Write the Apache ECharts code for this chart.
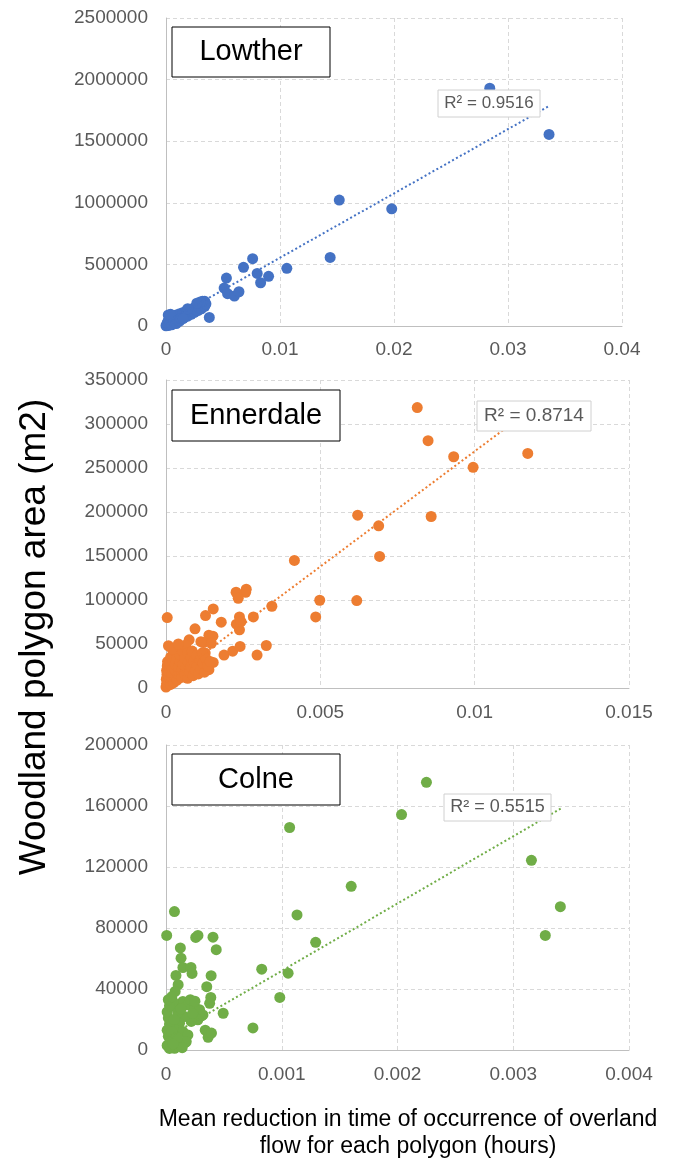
<!DOCTYPE html>
<html><head><meta charset="utf-8">
<script src="https://cdn.jsdelivr.net/npm/echarts/dist/echarts.min.js"></script>
<style>html,body{margin:0;padding:0;background:#fff}#c{width:674px;height:1160px}</style>
</head><body><div id="c"></div>
<script>
// ---- data ----
var panelNames = ['Lowther', 'Ennerdale', 'Colne'];
var r2Labels = ['R² = 0.9516', 'R² = 0.8714', 'R² = 0.5515'];
var yAxisTitle = 'Woodland polygon area (m2)';
var xAxisTitle1 = 'Mean reduction in time of occurrence of overland';
var xAxisTitle2 = 'flow for each polygon (hours)';

var lowtherX = [0, 0.04, 0.01];          // min, max, interval
var lowtherY = [0, 2500000, 500000];
var ennerdaleX = [0, 0.015, 0.005];
var ennerdaleY = [0, 350000, 50000];
var colneX = [0, 0.004, 0.001];
var colneY = [0, 200000, 40000];

var lowther = [
  [0.0284,1930000],[0.0336,1555000],[0.0152,1022000],[0.0198,951000],[0.0144,557000],
  [0.0106,468000],[0.0076,546000],[0.0068,476000],[0.0080,427000],[0.0090,403000],
  [0.0083,351000],[0.0053,389000],[0.0051,308000],[0.0054,262000],[0.0060,243000],
  [0.0064,278000],[0.0038,70000],
  [0.0000,2000],[0.0001,8000],[0.0002,4000],[0.0001,25000],[0.0002,45000],[0.0003,15000],
  [0.0003,70000],[0.0002,90000],[0.0004,30000],[0.0005,55000],[0.0005,10000],[0.0006,80000],
  [0.0007,35000],[0.0008,60000],[0.0009,20000],[0.0009,90000],[0.0010,45000],[0.0011,75000],
  [0.0012,100000],[0.0012,40000],[0.0013,60000],[0.0014,85000],[0.0015,110000],[0.0016,70000],
  [0.0017,95000],[0.0018,120000],[0.0019,80000],[0.0020,105000],[0.0021,130000],[0.0022,95000],
  [0.0023,120000],[0.0024,145000],[0.0025,110000],[0.0026,135000],[0.0027,160000],[0.0028,125000],
  [0.0029,150000],[0.0030,175000],[0.0031,140000],[0.0032,165000],[0.0033,190000],[0.0034,160000],
  [0.0034,200000],[0.0035,180000],[0.0032,200000],[0.0030,195000],[0.0027,185000],[0.0004,95000],
  [0.0015,60000],[0.0019,140000]
];
var ennerdale = [
  [0.00814,318700],[0.00849,281000],[0.00932,262800],[0.00995,250800],[0.01172,266600],
  [0.00621,196400],[0.00859,194900],[0.00689,184300],[0.00692,149500],[0.00416,145000],
  [0.00498,99700],[0.00618,99300],[0.00485,80800],[0.00343,92900],[0.00283,80800],
  [0.0026,112200],[0.00258,108800],[0.00227,108800],[0.00234,102000],[0.00238,80800],
  [0.00228,72500],[0.00243,75500],[0.00238,66100],[0.00179,74800],[0.00153,89900],
  [0.00128,82300],[0.00094,67200],[0.00075,54800],[0.00139,60000],[0.00152,58900],
  [0.00121,51700],[0.00127,39700],[0.00153,29100],[0.00188,37400],[0.00216,41900],
  [0.0024,47200],[0.00295,37400],[0.00325,48300],[0.00004,80000],[0.00008,48000],
  [0.00139,20800],[0.00147,50800],[0.00113,52600],
  [0.00000,1000],[0.00002,5000],[0.00001,10000],[0.00003,15000],[0.00002,20000],[0.00004,25000],
  [0.00005,30000],[0.00006,3000],[0.00008,8000],[0.0001,13000],[0.0001,18000],[0.00012,23000],
  [0.00012,28000],[0.00015,35000],[0.00015,4000],[0.00018,10000],[0.0002,16000],[0.0002,22000],
  [0.00022,30000],[0.00025,38000],[0.00025,6000],[0.0003,12000],[0.0003,20000],[0.0003,27000],
  [0.00032,42000],[0.00035,34000],[0.00036,9000],[0.0004,16000],[0.0004,24000],[0.00042,45000],
  [0.00045,30000],[0.00045,38000],[0.0005,12000],[0.0005,20000],[0.00052,47000],[0.00055,27000],
  [0.00055,41000],[0.0006,16000],[0.0006,34000],[0.00064,48800],[0.00065,23000],[0.0007,40000],
  [0.0007,11000],[0.00072,29000],[0.00076,18000],[0.0008,35000],[0.0008,24000],[0.00085,42000],
  [0.00088,14000],[0.0009,30000],[0.00095,20000],[0.001,37000],[0.001,26000],[0.00105,16000],
  [0.0011,32000],[0.00112,22000],[0.0012,28000],[0.00118,40000],[0.00125,18000],[0.0013,33000],
  [0.00135,25000],[0.00143,30000],[0.0002,44000],[0.0004,50000]
];
var colne = [
  [0.00225,175500],[0.002035,154400],[0.001068,145900],[0.003157,124400],[0.0016,107300],
  [0.003407,94000],[0.001132,88600],[0.003277,75100],[0.001293,70600],[0.000827,53000],
  [0.001055,50400],[0.000983,34500],[0.000751,14500],[0.000494,24100],[0.000073,90800],
  [0.000006,75100],[0.000257,73800],[0.000276,75100],[0.000406,74000],[0.000434,65800],
  [0.000124,66900],[0.00013,60200],[0.000146,54100],[0.000216,54100],[0.000225,50200],
  [0.000086,48900],[0.00039,48700],[0.000105,42800],[0.000352,41500],[0.000079,38400],
  [0.000387,34500],[0.000377,30600],[0.000339,13000],[0.000364,8300],[0.000393,11100],
  [0.000307,22400],[0.000168,5000],
  [0.000146,31800],[0.000189,29600],[0.000247,28500],[0.00029,26400],[0.000319,23000],
  [0.000275,19800],[0.000218,18700],[0.00016,21900],[0.000102,24200],[0.000074,28500],
  [0.000059,31800],[0.000117,17600],[0.000088,13200],[0.000146,12100],[0.000189,9900],
  [0.000175,5500],[0.000117,3300],[0.000074,1100],[0.00003,1000],[0.000045,6600],
  [0.00003,17000],[0.00001,3000],[0.00002,9000],[0.00001,13000],[0.00002,21000],
  [0.00001,25000],[0.00003,29000],[0.00002,33000],[0.00005,35000],[0.00007,20000],
  [0.0001,8000],[0.00005,12000],[0.00013,27000],[0.00021,33000],[0.00025,32000],
  [0.00023,24000],[0.00014,1500],[0.00006,4000]
];
// trendline end points
var lowtherTrend = [[0, 32000], [0.0336, 1786000]];
var ennerdaleTrend = [[0, 7000], [0.0117, 313500]];
var colneTrend = [[0, 7800], [0.00342, 158700]];

var colors = ['#4472C4', '#ED7D31', '#70AD47'];
var FONT = '"Liberation Sans", Arial, sans-serif';

function plain(v) { return String(+v.toPrecision(6)); }

function xAx(i, r, m) {
  return {
    type: 'value', gridIndex: i, min: r[0], max: r[1], interval: r[2],
    axisLine: { show: true, onZero: false, lineStyle: { color: '#bfbfbf', width: 1 } },
    axisTick: { show: false },
    axisLabel: { fontSize: 19, color: '#595959', fontFamily: FONT, margin: m, formatter: plain, showMaxLabel: true },
    splitLine: { show: true, lineStyle: { type: [4, 3], color: '#d9d9d9', width: 1 } }
  };
}
function yAx(i, r) {
  return {
    type: 'value', gridIndex: i, min: r[0], max: r[1], interval: r[2],
    axisLine: { show: true, onZero: false, lineStyle: { color: '#bfbfbf', width: 1 } },
    axisTick: { show: false },
    axisLabel: { fontSize: 19, color: '#595959', fontFamily: FONT, margin: 18, formatter: plain },
    splitLine: { show: true, lineStyle: { type: [4, 3], color: '#d9d9d9', width: 1 } }
  };
}
function scat(i, d) {
  return { type: 'scatter', xAxisIndex: i, yAxisIndex: i, data: d, symbolSize: 11,
    itemStyle: { color: colors[i], opacity: 1 }, z: 3, silent: true };
}
function trend(i, d) {
  return { type: 'line', xAxisIndex: i, yAxisIndex: i, data: d, symbol: 'none',
    lineStyle: { color: colors[i], width: 2, type: [2, 2.5] }, z: 4, silent: true, animation: false };
}
function box(x, y, w, h, text, size, stroke, fill) {
  return [
    { type: 'rect', z: 100, shape: { x: x, y: y, width: w, height: h },
      style: { fill: '#fff', stroke: stroke, lineWidth: 1 } },
    { type: 'text', z: 101, x: x + w / 2, y: y + h / 2,
      style: { text: text, font: size + 'px ' + FONT, fill: fill,
        align: 'center', verticalAlign: 'middle', textAlign: 'center', textVerticalAlign: 'middle' } }
  ];
}

var chart = echarts.init(document.getElementById('c'));
var graphics = [].concat(
  box(172, 27, 158, 50, panelNames[0], 29, '#000', '#000'),
  box(172, 390, 168, 51, panelNames[1], 29, '#000', '#000'),
  box(172, 754, 168, 51, panelNames[2], 29, '#000', '#000'),
  box(438, 90, 102, 27, r2Labels[0], 17, '#d0d0d0', '#595959'),
  box(477, 401, 114, 30, r2Labels[1], 19, '#d0d0d0', '#595959'),
  box(444, 794, 107, 27, r2Labels[2], 18, '#d0d0d0', '#595959'),
  [
    { type: 'text', z: 101, x: 35, y: 637, rotation: Math.PI / 2,
      style: { text: yAxisTitle, font: '37px ' + FONT, fill: '#000',
        align: 'center', verticalAlign: 'middle', textAlign: 'center', textVerticalAlign: 'middle' } },
    { type: 'text', z: 101, x: 408, y: 1120,
      style: { text: xAxisTitle1, font: '23px ' + FONT, fill: '#000',
        align: 'center', verticalAlign: 'middle', textAlign: 'center', textVerticalAlign: 'middle' } },
    { type: 'text', z: 101, x: 408, y: 1147,
      style: { text: xAxisTitle2, font: '23px ' + FONT, fill: '#000',
        align: 'center', verticalAlign: 'middle', textAlign: 'center', textVerticalAlign: 'middle' } }
  ]
);

chart.setOption({
  animation: false,
  backgroundColor: '#fff',
  textStyle: { fontFamily: FONT },
  grid: [
    { left: 166, right: 52, top: 18, height: 308 },
    { left: 166, right: 45, top: 380, height: 308 },
    { left: 166, right: 45, top: 745, height: 305 }
  ],
  xAxis: [xAx(0, lowtherX, 14), xAx(1, ennerdaleX, 15), xAx(2, colneX, 15)],
  yAxis: [yAx(0, lowtherY), yAx(1, ennerdaleY), yAx(2, colneY)],
  series: [
    scat(0, lowther), scat(1, ennerdale), scat(2, colne),
    trend(0, lowtherTrend), trend(1, ennerdaleTrend), trend(2, colneTrend)
  ],
  graphic: graphics
});
</script></body></html>
